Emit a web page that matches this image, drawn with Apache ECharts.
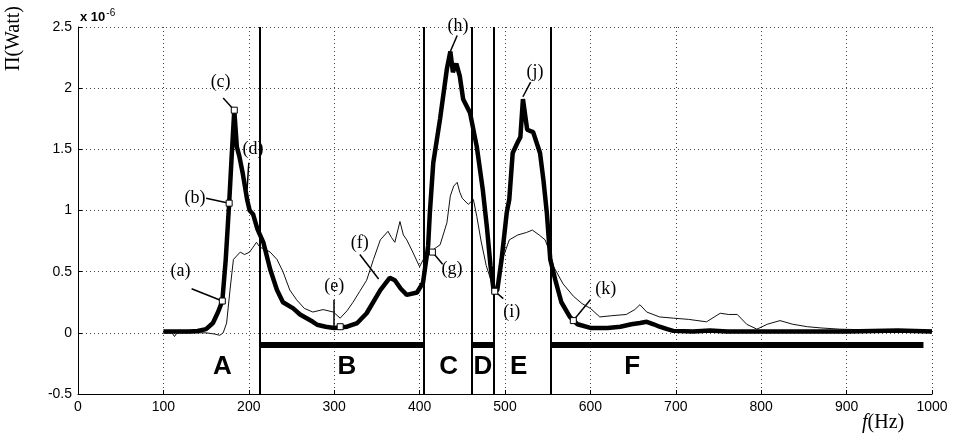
<!DOCTYPE html>
<html>
<head>
<meta charset="utf-8">
<script src="https://cdn.jsdelivr.net/npm/echarts@6/dist/echarts.min.js"></script>
<style>
  html, body { margin: 0; padding: 0; background: #fff; }
  #main { width: 957px; height: 440px; }
</style>
</head>
<body>
<div id="main"></div>
<script>
// thick curve (x 1e-6 W)
const thickFreq = [100, 110, 120, 130, 140, 150, 158, 164, 169, 173, 177, 180, 183, 186, 189, 193, 198, 201, 205, 210, 217, 225, 233, 240, 252, 260, 275, 280, 290, 300, 315, 327, 338, 354, 365, 371, 378, 385, 397, 404, 410, 412, 416, 424, 432, 436, 439, 443, 447, 451, 459, 467, 474, 479, 483, 487, 491, 496, 502, 505, 509, 515, 518, 521, 526, 533, 541, 545, 549, 553, 559, 566, 576, 585, 600, 620, 635, 648, 658, 666, 674, 681, 690, 697, 720, 740, 760, 800, 850, 900, 960, 1000];
const thickPow = [0.01, 0.01, 0.01, 0.01, 0.015, 0.03, 0.08, 0.17, 0.26, 0.6, 1.06, 1.45, 1.82, 1.52, 1.44, 1.3, 1.09, 1.0, 0.97, 0.85, 0.74, 0.52, 0.35, 0.25, 0.2, 0.15, 0.09, 0.066, 0.05, 0.04, 0.05, 0.08, 0.16, 0.35, 0.45, 0.43, 0.36, 0.31, 0.33, 0.41, 0.71, 0.98, 1.39, 1.75, 2.16, 2.3, 2.13, 2.2, 2.1, 1.91, 1.8, 1.52, 1.17, 0.85, 0.55, 0.33, 0.35, 0.6, 0.98, 1.09, 1.47, 1.56, 1.6, 1.91, 1.66, 1.64, 1.47, 1.25, 0.98, 0.6, 0.43, 0.25, 0.13, 0.07, 0.04, 0.04, 0.05, 0.07, 0.08, 0.09, 0.07, 0.05, 0.03, 0.016, 0.01, 0.02, 0.01, 0.01, 0.01, 0.01, 0.02, 0.01];

// thin curve
const thinFreq = [100, 110, 113, 116, 130, 150, 160, 166, 170, 174, 178, 182, 190, 195, 201, 205, 209, 213, 220, 225, 233, 240, 248, 256, 265, 275, 287, 299, 307, 315, 322, 330, 338, 346, 354, 363, 367, 371, 377, 381, 385, 392, 400, 408, 416, 424, 432, 436, 440, 444, 447, 450, 457, 463, 467, 472, 478, 484, 488, 492, 497, 505, 515, 525, 532, 540, 547, 553, 557, 568, 580, 590, 600, 611, 625, 642, 652, 658, 666, 681, 697, 715, 736, 752, 762, 772, 783, 795, 807, 822, 837, 854, 870, 892, 920, 950, 1000];
const thinPow = [0, 0, -0.03, 0, 0, 0, -0.01, -0.02, 0, 0.08, 0.35, 0.6, 0.66, 0.64, 0.66, 0.7, 0.74, 0.7, 0.68, 0.66, 0.6, 0.5, 0.35, 0.27, 0.2, 0.17, 0.19, 0.17, 0.12, 0.18, 0.25, 0.34, 0.43, 0.6, 0.76, 0.83, 0.78, 0.74, 0.91, 0.8, 0.76, 0.66, 0.54, 0.65, 0.68, 0.72, 0.9, 1.12, 1.2, 1.23, 1.15, 1.1, 1.05, 1.09, 0.95, 0.75, 0.55, 0.42, 0.36, 0.4, 0.6, 0.76, 0.8, 0.82, 0.84, 0.8, 0.76, 0.65, 0.54, 0.4, 0.3, 0.24, 0.2, 0.13, 0.14, 0.15, 0.19, 0.23, 0.17, 0.13, 0.12, 0.11, 0.09, 0.16, 0.15, 0.15, 0.07, 0.03, 0.07, 0.1, 0.07, 0.05, 0.04, 0.03, 0.025, 0.02, 0.02];

// band boundaries and bars
const dividers = [213, 405, 461, 487, 554];
const bars = [[213, 405], [461, 487], [554, 990]];
const barLevel = -0.1;
const zoneNames = ['A', 'B', 'C', 'D', 'E', 'F'];
const zoneFreq = [169, 315, 434, 474, 516, 649];
const zoneLevel = -0.28;

// annotations: label, text position, leader start, leader end (data units)
const noteNames = ['(a)', '(b)', '(c)', '(d)', '(e)', '(f)', '(g)', '(h)', '(i)', '(j)', '(k)'];
const noteText = [[120, 0.5], [137, 1.1], [167, 2.05], [205, 1.5], [300, 0.38], [330, 0.73], [438, 0.52], [445, 2.51], [508, 0.17], [535, 2.13], [618, 0.36]];
const noteFrom = [[133, 0.36], [150, 1.1], [170, 1.92], [200, 1.39], [300, 0.27], [330, 0.64], [427, 0.56], [444, 2.43], [498, 0.28], [530, 2.05], [600, 0.27]];
const noteTo = [[169, 0.26], [177, 1.06], [183, 1.82], [198, 1.17], [300, 0.04], [352, 0.44], [415, 0.66], [436, 2.3], [488, 0.34], [521, 1.93], [580, 0.1]];
const markFreq = [169, 177, 183, 307, 415, 488, 580];
const markPow = [0.26, 1.06, 1.82, 0.05, 0.66, 0.34, 0.1];

const zip = (a, b) => a.map((v, i) => [v, b[i]]);

const serif = 'Liberation Serif, Times New Roman, serif';
const sans = 'Liberation Sans, Arial, sans-serif';

const options = {
  animation: false,
  backgroundColor: '#fff',
  grid: { left: 78, right: 25, top: 27, bottom: 46 },
  xAxis: {
    type: 'value', min: 0, max: 1000, interval: 100,
    axisLine: { show: true, onZero: false, lineStyle: { color: '#000', width: 1 } },
    axisTick: { show: true, inside: true, length: 4, lineStyle: { color: '#000' } },
    axisLabel: { color: '#000', fontFamily: sans, fontSize: 14, margin: 6, formatter: v => String(v) },
    splitLine: { show: true, lineStyle: { type: [1, 3], color: '#444' } }
  },
  yAxis: {
    type: 'value', min: -0.5, max: 2.5, interval: 0.5,
    axisLine: { show: true, onZero: false, lineStyle: { color: '#000', width: 1 } },
    axisTick: { show: true, inside: true, length: 4, lineStyle: { color: '#000' } },
    axisLabel: { color: '#000', fontFamily: sans, fontSize: 14, margin: 6, formatter: v => String(v) },
    splitLine: { show: true, lineStyle: { type: [1, 3], color: '#444' } }
  },
  graphic: [
    { type: 'text', left: 4, top: 6, rotation: Math.PI / 2,
      style: { text: 'Π(Watt)', font: '20px ' + serif, fill: '#000' } },
    { type: 'text', left: 80, top: 8,
      style: { text: '{a|x 10}{b|-6}', fill: '#000',
        rich: { a: { fontFamily: sans, fontSize: 13, fontWeight: 'bold', verticalAlign: 'bottom' },
                b: { fontFamily: sans, fontSize: 10, verticalAlign: 'top', padding: [0, 0, 6, 1] } } } },
    { type: 'text', left: 862, top: 413,
      style: { text: '{i|f}{n|(Hz)}', fill: '#000',
        rich: { i: { fontFamily: serif, fontStyle: 'italic', fontSize: 20 },
                n: { fontFamily: serif, fontSize: 20 } } } }
  ],
  series: [
    {
      type: 'line', data: zip(thinFreq, thinPow), showSymbol: false,
      lineStyle: { color: '#111', width: 1 }, z: 3
    },
    {
      type: 'line', data: zip(thickFreq, thickPow), showSymbol: false,
      lineStyle: { color: '#000', width: 4.5 }, z: 4
    },
    {
      type: 'line', data: [], clip: false, z: 5,
      markLine: {
        silent: true, symbol: 'none', label: { show: false },
        lineStyle: { color: '#000', type: 'solid', width: 2, opacity: 1 },
        data: dividers.map(f => [{ coord: [f, -0.5] }, { coord: [f, 2.5] }])
          .concat(bars.map(b => [{ coord: [b[0], barLevel], lineStyle: { width: 6 } }, { coord: [b[1], barLevel] }]))
          .concat(noteFrom.map((p, i) => [{ coord: p, lineStyle: { width: 1.5 } }, { coord: noteTo[i] }]))
      }
    },
    {
      type: 'scatter', data: zip(markFreq, markPow), symbol: 'rect', symbolSize: 6, z: 6,
      itemStyle: { color: '#fff', borderColor: '#000', borderWidth: 1, opacity: 1 }
    },
    {
      type: 'scatter', symbolSize: 0, z: 7, clip: false,
      itemStyle: { opacity: 1 },
      data: noteText.map((p, i) => ({ value: p, name: noteNames[i] })),
      label: { show: true, position: 'inside', formatter: '{b}', color: '#000', fontFamily: serif, fontSize: 18 }
    },
    {
      type: 'scatter', symbolSize: 0, z: 7,
      itemStyle: { opacity: 1 },
      data: zoneFreq.map((f, i) => ({ value: [f, zoneLevel], name: zoneNames[i] })),
      label: { show: true, position: 'inside', formatter: '{b}', color: '#000', fontFamily: sans, fontWeight: 'bold', fontSize: 26 }
    }
  ]
};

const myChart = echarts.init(document.getElementById('main'));
myChart.setOption(options);
</script>
</body>
</html>
